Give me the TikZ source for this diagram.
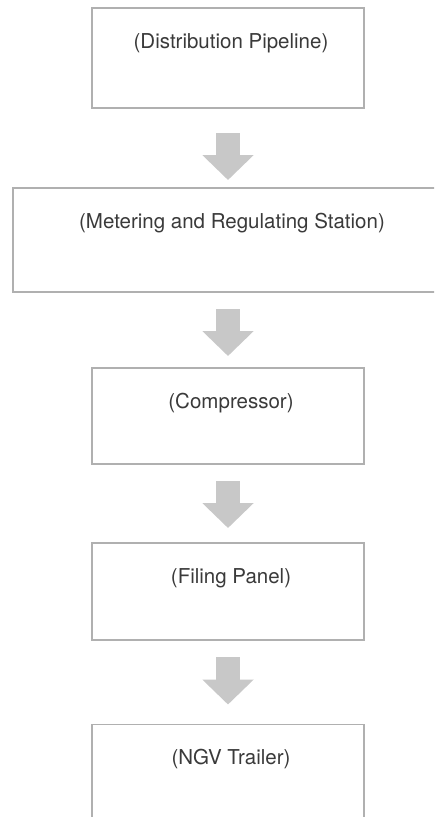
\documentclass[tikz,border=0pt]{standalone}
\usepackage{fontspec}
\setmainfont{TeX Gyre Heros}
\usetikzlibrary{arrows.meta}
\definecolor{boxline}{HTML}{B0B0B0}
\definecolor{arrowfill}{HTML}{C8C8C8}
\definecolor{labeltext}{HTML}{3A3A3A}
\tikzset{
  stagebox/.style={draw=boxline, line width=1.6pt, fill=white, outer sep=0pt,
    inner sep=0pt, minimum width=272pt},
  stagetext/.style={anchor=base, inner sep=0pt, text=labeltext,
    font=\fontsize{20.5}{24}\selectfont},
  flowarrow/.style={draw=arrowfill, line width=24pt,
    -{Triangle[width=50pt, length=25pt]}},
}
\begin{document}
\begin{tikzpicture}[x=1pt, y=-1pt]
  \clip (0,0) rectangle (434,817);
  \fill[white] (0,0) rectangle (434,817);

  % process stages
  \node[stagebox, minimum height=100pt] (b1) at (228,58) {};
  \node[stagebox, minimum width=428pt, minimum height=104pt] (b2) at (226.7,240) {};
  \node[stagebox, minimum height=96pt] (b3) at (228,416) {};
  \node[stagebox, minimum height=97pt] (b4) at (228,591.5) {};
  \node[stagebox, minimum height=106pt] (b5) at (228,777.5) {};

  % stage names
  \node[stagetext] (t1) at (231,48) {(Distribution Pipeline)};
  \node[stagetext] (t2) at (232,228) {(Metering and Regulating Station)};
  \node[stagetext] (t3) at (231,408) {(Compressor)};
  \node[stagetext] (t4) at (231,583) {(Filing Panel)};
  \node[stagetext] (t5) at (231,764) {(NGV Trailer)};

  % flow arrows between stages
  \draw[flowarrow] ([yshift=-25pt]b1.south) -- ([yshift=8pt]b1.south |- b2.north);
  \draw[flowarrow] ([yshift=-17pt]b1.south |- b2.south) -- ([yshift=12pt]b3.north);
  \draw[flowarrow] ([yshift=-17pt]b3.south) -- ([yshift=15pt]b4.north);
  \draw[flowarrow] ([yshift=-17pt]b4.south) -- ([yshift=20pt]b5.north);
\end{tikzpicture}
\end{document}
